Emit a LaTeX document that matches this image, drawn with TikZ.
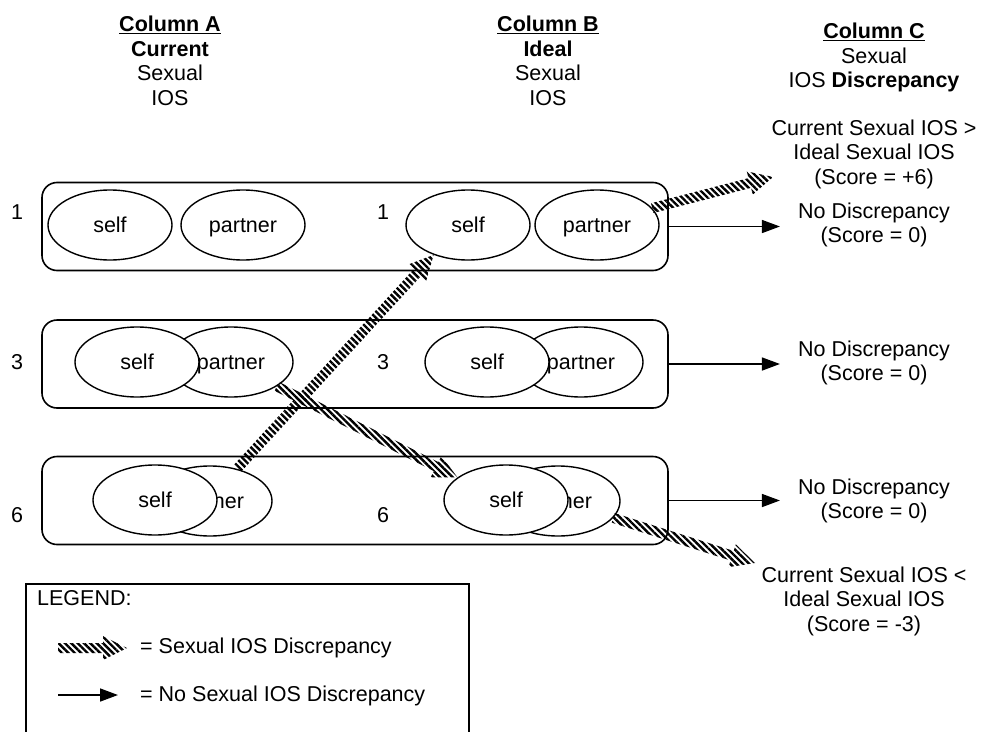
\documentclass[tikz,border=0pt]{standalone}
\usepackage{fontspec}
\setmainfont{Liberation Sans}
\usetikzlibrary{shapes.geometric, arrows.meta, calc, patterns.meta}

% striped arrow between two named points
\newcommand{\hatcharrow}[2]{%
    \coordinate (hb) at ($(#2)!24pt!(#1)$);
    \fill [hatch] ($(#1)!5pt!90:(#2)$) -- ($(hb)!5pt!-90:(#1)$) -- ($(hb)!12pt!-90:(#1)$) -- (#2)
        -- ($(hb)!12pt!90:(#1)$) -- ($(hb)!5pt!90:(#1)$) -- ($(#1)!5pt!-90:(#2)$) -- cycle;
}

\begin{document}
\begin{tikzpicture}[x=1pt, y=-1pt, >={Triangle[length=18pt, width=13pt]},
        font=\fontsize{21.5pt}{24.5pt}\selectfont,
        rowbox/.style={draw, line width=1.6pt, rounded corners=15pt, minimum width=626pt, minimum height=88pt},
        oval/.style={draw, ellipse, line width=1.4pt, fill=white, inner sep=0pt, text height=15pt, text depth=0pt, minimum width=124pt, minimum height=70pt},
        lbl/.style={align=center, inner sep=0pt},
        plain/.style={->, line width=1.5pt},
        hatch/.style={pattern={Lines[angle=-45, distance=4.5pt, line width=2.4pt]}}]
        \useasboundingbox (0,0) rectangle (985,731);

        % column headings
        \node (colA) at (170,16) [lbl, anchor=north] {\underline{\textbf{Column A}}\\\textbf{Current}\\Sexual\\IOS};
        \node (colB) at (548,16) [lbl, anchor=north] {\underline{\textbf{Column B}}\\\textbf{Ideal}\\Sexual\\IOS};
        \node (colC) at (874,23) [lbl, anchor=north] {\underline{\textbf{Column C}}\\Sexual\\IOS \textbf{Discrepancy}};

        % rows
        \node (row1) at (355,226.5) [rowbox] {};
        \node (row2) at (355,364) [rowbox] {};
        \node (row3) at (355,500.5) [rowbox] {};

        \node (numA1) at (17,212) {1};
        \node (numA3) at (17,362) {3};
        \node (numA6) at (17,515) {6};
        \node (numB1) at (383,212) {1};
        \node (numB3) at (383,362) {3};
        \node (numB6) at (383,515) {6};

        \node (sA1) at (110,225) [oval] {self};
        \node (pA1) at (243,225) [oval] {partner};
        \node (sB1) at (468,225) [oval] {self};
        \node (pB1) at (597,225) [oval] {partner};

        \node (pA2) at (231,362) [oval] {partner};
        \node (sA2) at (137,362) [oval] {self};
        \node (pB2) at (581,362) [oval] {partner};
        \node (sB2) at (487,362) [oval] {self};

        \node (pA3) at (210,501) [oval] {partner};
        \node (sA3) at (155,500) [oval] {self};
        \node (pB3) at (558,501) [oval] {partner};
        \node (sB3) at (506,500) [oval] {self};

        % column C texts
        \node (gt) at (874,154) [lbl] {Current Sexual IOS >\\Ideal Sexual IOS\\(Score = +6)};
        \node (nd1) at (874,225) [lbl] {No Discrepancy\\(Score = 0)};
        \node (nd2) at (874,363) [lbl] {No Discrepancy\\(Score = 0)};
        \node (nd3) at (874,501) [lbl] {No Discrepancy\\(Score = 0)};
        \node (lt) at (864,601) [lbl] {Current Sexual IOS <\\Ideal Sexual IOS\\(Score = -3)};
        \coordinate (gtIn) at (773,177);
        \coordinate (ltIn) at (755,563);

        \draw [plain] (row1.east) -- ($(row1.east -| nd1.west)+(-18,0)$);
        \draw [plain] (row2.east) -- ($(row2.east -| nd2.west)+(-18,0)$);
        \draw [plain] (row3.east) -- ($(row3.east -| nd3.west)+(-18,0)$);

        \hatcharrow{pA3.50}{sB1.221}
        \hatcharrow{pA2.-28}{sB3.155}
        \hatcharrow{pB1.17}{gtIn}
        \hatcharrow{pB3.-17}{ltIn}

        % legend
        \node (legend) at (25,583) [draw, line width=1.6pt, anchor=north west, minimum width=443pt, minimum height=170pt] {};
        \node (legtitle) at (37,598) [anchor=west, inner sep=0pt] {LEGEND:};
        \node (legH) at (140,648) [anchor=west, inner sep=0pt] {= Sexual IOS Discrepancy};
        \node (legP) at (140,696) [anchor=west, inner sep=0pt] {= No Sexual IOS Discrepancy};
        \coordinate (lh1) at (58,648);
        \coordinate (lh2) at (127,648);
        \coordinate (lp1) at (58,695);
        \coordinate (lp2) at (118,695);
        \hatcharrow{lh1}{lh2}
        \draw [plain] (lp1) -- (lp2);
\end{tikzpicture}
\end{document}
